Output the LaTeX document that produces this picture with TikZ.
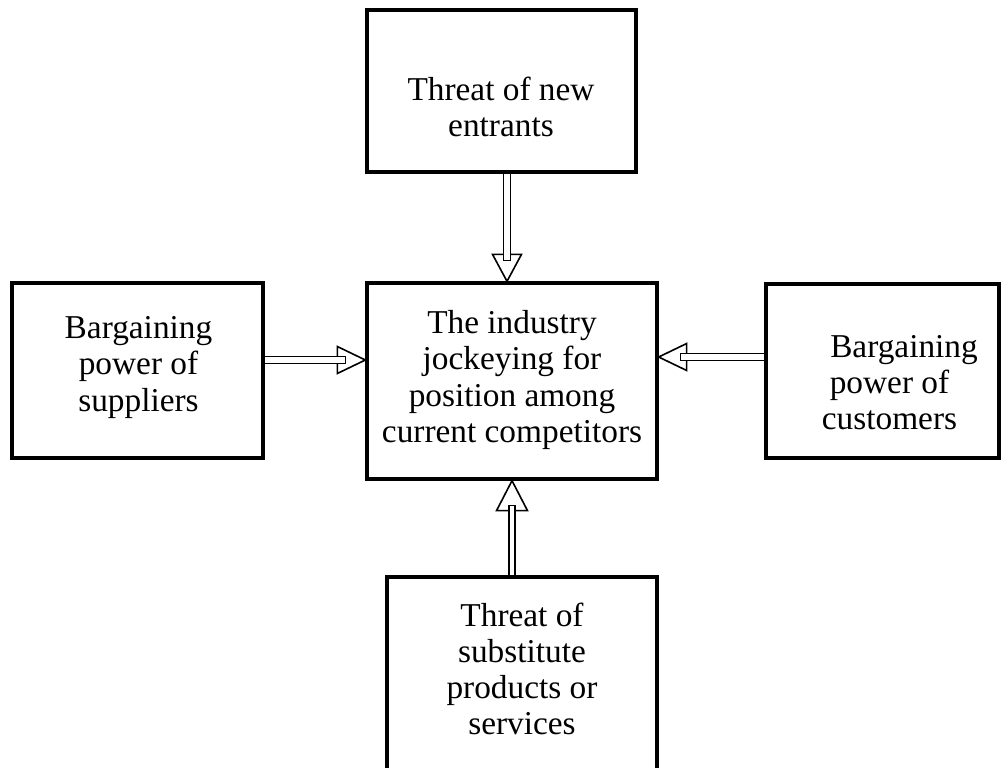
\documentclass[tikz,border=0pt]{standalone}
\usepackage{fontspec}
\setmainfont{Liberation Serif}
\usetikzlibrary{calc}
\begin{document}
\begin{tikzpicture}[x=0.75pt,y=-0.75pt,
  box/.style={draw, line width=2.5pt, inner sep=0pt, fill=white},
  lbl/.style={align=center, inner sep=0pt, font=\fontsize{25}{27.2}\selectfont},
  head/.style={draw, line width=1.2pt, line join=miter},
  shaft/.style={draw, line width=0.9pt, fill=white}]
\useasboundingbox (0,0) rectangle (1002,767);
\clip (0,0) rectangle (1002,767);
% boxes
\node[box, minimum width=201.75pt, minimum height=121.5pt] (T) at (501.5,91) {};
\node[box, minimum width=217.5pt, minimum height=147pt] (C) at (512,381) {};
\node[box, minimum width=188.25pt, minimum height=131.25pt] (L) at (137.5,370.5) {};
\node[box, minimum width=174.75pt, minimum height=130.5pt] (R) at (882.5,371) {};
\node[box, minimum width=202.5pt, minimum height=180pt] (B) at (522,697) {};
% labels
\node[lbl] (tT) at (501,107) {Threat of new\\entrants};
\node[lbl] (tC) at (512,380) {The industry\\jockeying for\\position among\\current competitors};
\node[lbl] (tL) at (138.5,367.5) {Bargaining\\power of\\suppliers};
\node[lbl] (tR) at (889.5,382.5) {\hspace*{21.75pt}Bargaining\\power of\\customers};
\node[lbl] (tB) at (522,669) {Threat of\\substitute\\products or\\services};
% arrow axes
\coordinate (ax1) at (507,0);
\coordinate (ay2) at (0,360);
\coordinate (ay3) at (0,357);
\coordinate (ax4) at (512,0);
% top arrow (down)
\draw[head] ($(C.north -| ax1)+(-14.5,-27)$) -- (C.north -| ax1) -- ($(C.north -| ax1)+(14.5,-27)$) -- cycle;
\draw[shaft] ($(T.south -| ax1)+(-3.75,0)$) rectangle ($(C.north -| ax1)+(3.75,-21)$);
% left arrow (right-pointing)
\draw[head] ($(C.west |- ay2)+(-28,-13.5)$) -- (C.west |- ay2) -- ($(C.west |- ay2)+(-28,13.5)$) -- cycle;
\draw[shaft] ($(L.east |- ay2)+(0,-3.25)$) rectangle ($(C.west |- ay2)+(-20,3.25)$);
% right arrow (left-pointing)
\draw[head] ($(C.east |- ay3)+(28,-13.5)$) -- (C.east |- ay3) -- ($(C.east |- ay3)+(28,13.5)$) -- cycle;
\draw[shaft] ($(C.east |- ay3)+(22,-3.25)$) rectangle ($(R.west |- ay3)+(0,3.25)$);
% bottom arrow (up)
\draw[head] ($(C.south -| ax4)+(-15.5,30)$) -- (C.south -| ax4) -- ($(C.south -| ax4)+(15.5,30)$) -- cycle;
\draw[shaft] ($(C.south -| ax4)+(-3,25)$) rectangle ($(B.north -| ax4)+(3,0)$);
\end{tikzpicture}
\end{document}
